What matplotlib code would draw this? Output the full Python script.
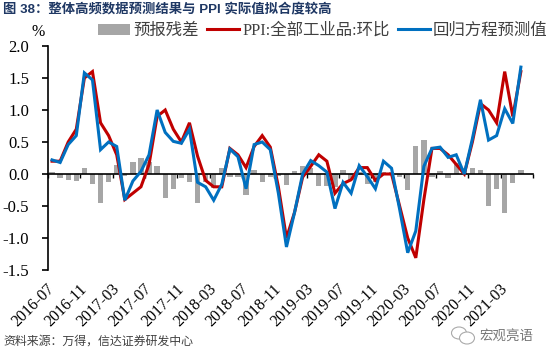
import matplotlib
matplotlib.use("Agg")
import matplotlib.pyplot as plt
from matplotlib.patches import Ellipse
import numpy as np

plt.rcParams['font.family'] = ['Liberation Serif', 'Noto Sans CJK SC', 'DejaVu Sans']

# values
months = ["2016-07", "2016-08", "2016-09", "2016-10", "2016-11", "2016-12",
          "2017-01", "2017-02", "2017-03", "2017-04", "2017-05", "2017-06",
          "2017-07", "2017-08", "2017-09", "2017-10", "2017-11", "2017-12",
          "2018-01", "2018-02", "2018-03", "2018-04", "2018-05", "2018-06",
          "2018-07", "2018-08", "2018-09", "2018-10", "2018-11", "2018-12",
          "2019-01", "2019-02", "2019-03", "2019-04", "2019-05", "2019-06",
          "2019-07", "2019-08", "2019-09", "2019-10", "2019-11", "2019-12",
          "2020-01", "2020-02", "2020-03", "2020-04", "2020-05", "2020-06",
          "2020-07", "2020-08", "2020-09", "2020-10", "2020-11", "2020-12",
          "2021-01", "2021-02", "2021-03", "2021-04", "2021-05", "2021-06"]
ppi = [0.2, 0.2, 0.5, 0.7, 1.5, 1.6,
       0.8, 0.6, 0.3, -0.4, -0.3, -0.2,
       0.15, 0.9, 1.0, 0.7, 0.5, 0.8,
       0.28, -0.1, -0.2, -0.2, 0.4, 0.3,
       0.1, 0.43, 0.6, 0.42, -0.2, -1.0,
       -0.6, -0.05, 0.12, 0.3, 0.2, -0.3,
       -0.15, -0.09, 0.1, 0.1, -0.1, 0.0,
       0.0, -0.5, -1.0, -1.31, -0.4, 0.4,
       0.4, 0.3, 0.15, 0.0, 0.5, 1.1,
       1.0, 0.8, 1.6, 0.9, 1.6]
pred = [0.22, 0.18, 0.46, 0.6, 1.58, 1.47,
        0.38, 0.5, 0.43, -0.41, -0.11, 0.04,
        0.3, 1.0, 0.65, 0.51, 0.48, 0.7,
        -0.13, -0.2, -0.41, -0.16, 0.39, 0.27,
        -0.23, 0.46, 0.5, 0.38, -0.3, -1.14,
        -0.6, 0.0, 0.21, 0.13, 0.03, -0.54,
        -0.13, -0.3, 0.13, -0.04, -0.23, 0.2,
        0.09, -0.55, -1.23, -0.89, 0.12, 0.4,
        0.42, 0.26, 0.3, 0.0, 0.55, 1.16,
        0.53, 0.6, 1.02, 0.79, 1.67]
resid = [0.03, -0.06, -0.09, -0.115, 0.1, -0.155,
         -0.46, -0.13, 0.14, -0.03, 0.18, 0.245,
         0.18, 0.125, -0.38, -0.24, -0.06, -0.13,
         -0.45, -0.13, -0.22, 0.09, -0.04, -0.05,
         -0.33, 0.07, -0.12, -0.04, -0.03, -0.17,
         0.04, 0.125, 0.1, -0.19, -0.19, -0.2,
         0.07, -0.1, 0.03, -0.16, -0.13, 0.03,
         0.03, -0.05, -0.25, 0.43, 0.53, -0.05,
         0.04, -0.07, 0.17, 0.1, 0.09, 0.06,
         -0.5, -0.24, -0.61, -0.135, 0.07]
y_ticks = [-1.5, -1.0, -0.5, 0.0, 0.5, 1.0, 1.5, 2.0]

fig = plt.figure(figsize=(5.5, 3.6), dpi=100)
ax = fig.add_axes([48/550, 1-270/360, (533-48)/550, (270-46)/360])

x = np.arange(len(ppi))
bars = ax.bar(x, resid, width=0.65, color="#a6a6a6", zorder=2)
line_ppi, = ax.plot(x, ppi, color="#c00000", lw=2.2, zorder=3, solid_joinstyle="miter")
line_pred, = ax.plot(x, pred, color="#0070c0", lw=2.2, zorder=4, solid_joinstyle="miter")

ax.set_xlim(-0.5, 59.5)
ax.set_ylim(-1.5, 2.0)
ax.set_yticks(y_ticks)
ax.set_yticklabels(["%.1f" % v for v in y_ticks], fontsize=12)
ax.tick_params(axis="y", direction="out", length=4, width=1.2, pad=9.5)

# axis line at zero, labels down at the bottom
ax.spines["bottom"].set_position(("data", 0))
ax.spines["bottom"].set_linewidth(1.2)
ax.spines["left"].set_linewidth(1.2)
for s in ["top", "right"]:
    ax.spines[s].set_visible(False)
ax.set_xticks(np.arange(0, 60, 4))
ax.set_xticklabels(months[::4], rotation=45, ha="right", va="center", rotation_mode="anchor", fontsize=11.5)
ax.set_xticks(np.arange(0, 61, 4) - 0.5, minor=True)
ax.tick_params(axis="x", which="major", length=0, pad=81)
ax.tick_params(axis="x", which="minor", direction="out", length=3, width=1.0)

# legend
ax.legend([bars, line_ppi, line_pred], ["预报残差", "PPI:全部工业品:环比", "回归方程预测值"],
          loc="center left", bbox_to_anchor=(98/550, 1-31/360), bbox_transform=fig.transFigure,
          ncol=3, frameon=False, fontsize=11.8, columnspacing=0.5, handlelength=1.95,
          handletextpad=0.2, labelcolor="#404040", borderpad=0, borderaxespad=0)

fig.text(31/550, 1-32/360, "%", fontsize=11.5, ha="left", va="center")
fig.text(3/550, 1-9/360, "图 38：整体高频数据预测结果与 PPI 实际值拟合度较高", fontsize=9.6, color="#1f3864",
         fontweight="bold", family=["Liberation Sans", "Noto Sans CJK SC"], ha="left", va="center")
fig.text(3/550, 1-342/360, "资料来源：万得，信达证券研发中心", fontsize=8.6, color="#404040", ha="left", va="center")

# watermark
fig.text(533/550, 1-336/360, "宏观亮语", fontsize=9.7, color="#777777", ha="right", va="center")
fig.add_artist(Ellipse((459/550, 1-333/360), 15/550, 12/360, fc="none", ec="#aaaaaa", lw=0.8, transform=fig.transFigure))
fig.add_artist(Ellipse((467/550, 1-338/360), 15/550, 12/360, fc="white", ec="#aaaaaa", lw=0.8, transform=fig.transFigure))

fig.savefig("out.png", dpi=100)
